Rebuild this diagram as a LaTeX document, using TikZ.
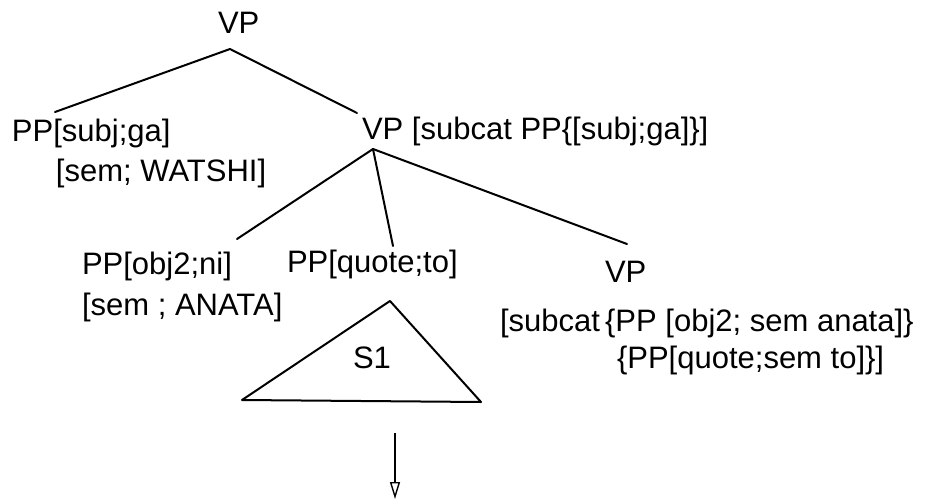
\documentclass[tikz,border=0pt]{standalone}
\usepackage{fontspec}
\setmainfont{Liberation Sans}
\usetikzlibrary{arrows.meta}
\begin{document}
\begin{tikzpicture}[x=1pt,y=-1pt,
  lbl/.style={anchor=base west,inner sep=0pt,outer sep=0pt,font=\fontsize{31}{36}\selectfont},
  branch/.style={line width=2pt,line cap=round},
  tri/.style={line width=2pt,line join=round}]
\useasboundingbox (0,0) rectangle (930,501);

% labels of the tree
\node[lbl] (vptop) at (218,33) {VP};
\node[lbl] (ppsubj) at (12,141) {PP[subj;ga]};
\node[lbl] (ppsubjsem) at (56,181) {[sem; WATSHI]};
\node[lbl] (vpsub) at (362,139) {VP [subcat PP\{[subj;ga]\}]};
\node[lbl] (ppobj) at (82,274) {PP[obj2;ni]};
\node[lbl] (ppobjsem) at (82,315) {[sem ; ANATA]};
\node[lbl] (ppquote) at (287,272) {PP[quote;to]};
\node[lbl] (vpright) at (605,282) {VP};
\node[lbl] (vprightA) at (500,331) {[subcat\,\{PP [obj2; sem anata]\}};
\node[lbl] (vprightB) at (617,368) {\{PP[quote;sem to]\}]};

% branch points
\coordinate (topapex) at (230,49);
\coordinate (ppsubjtop) at (55,112);
\coordinate (vpsubtop) at (357,113);
\coordinate (midapex) at (373,149);
\coordinate (ppobjtop) at (237,239);
\coordinate (ppquotetop) at (393,246);
\coordinate (vprighttop) at (627,244);

\draw[branch] (ppsubjtop) -- (topapex) -- (vpsubtop);
\draw[branch] (midapex) -- (ppobjtop);
\draw[branch] (midapex) -- (ppquotetop);
\draw[branch] (midapex) -- (vprighttop);

% abbreviated subtree S1
\coordinate (s1apex) at (390,301);
\coordinate (s1left) at (242,400);
\coordinate (s1right) at (481,402);
\draw[tri] (s1apex) -- (s1left) -- (s1right) -- cycle;
\node[lbl] (s1) at (353,368) {S1};

% arrow below
\coordinate (arrfrom) at (395,433);
\coordinate (arrto) at (395,499);
\draw[line width=1.4pt,-{Triangle[open,length=17pt,width=10pt]}] (arrfrom) -- (arrto);
\end{tikzpicture}
\end{document}
